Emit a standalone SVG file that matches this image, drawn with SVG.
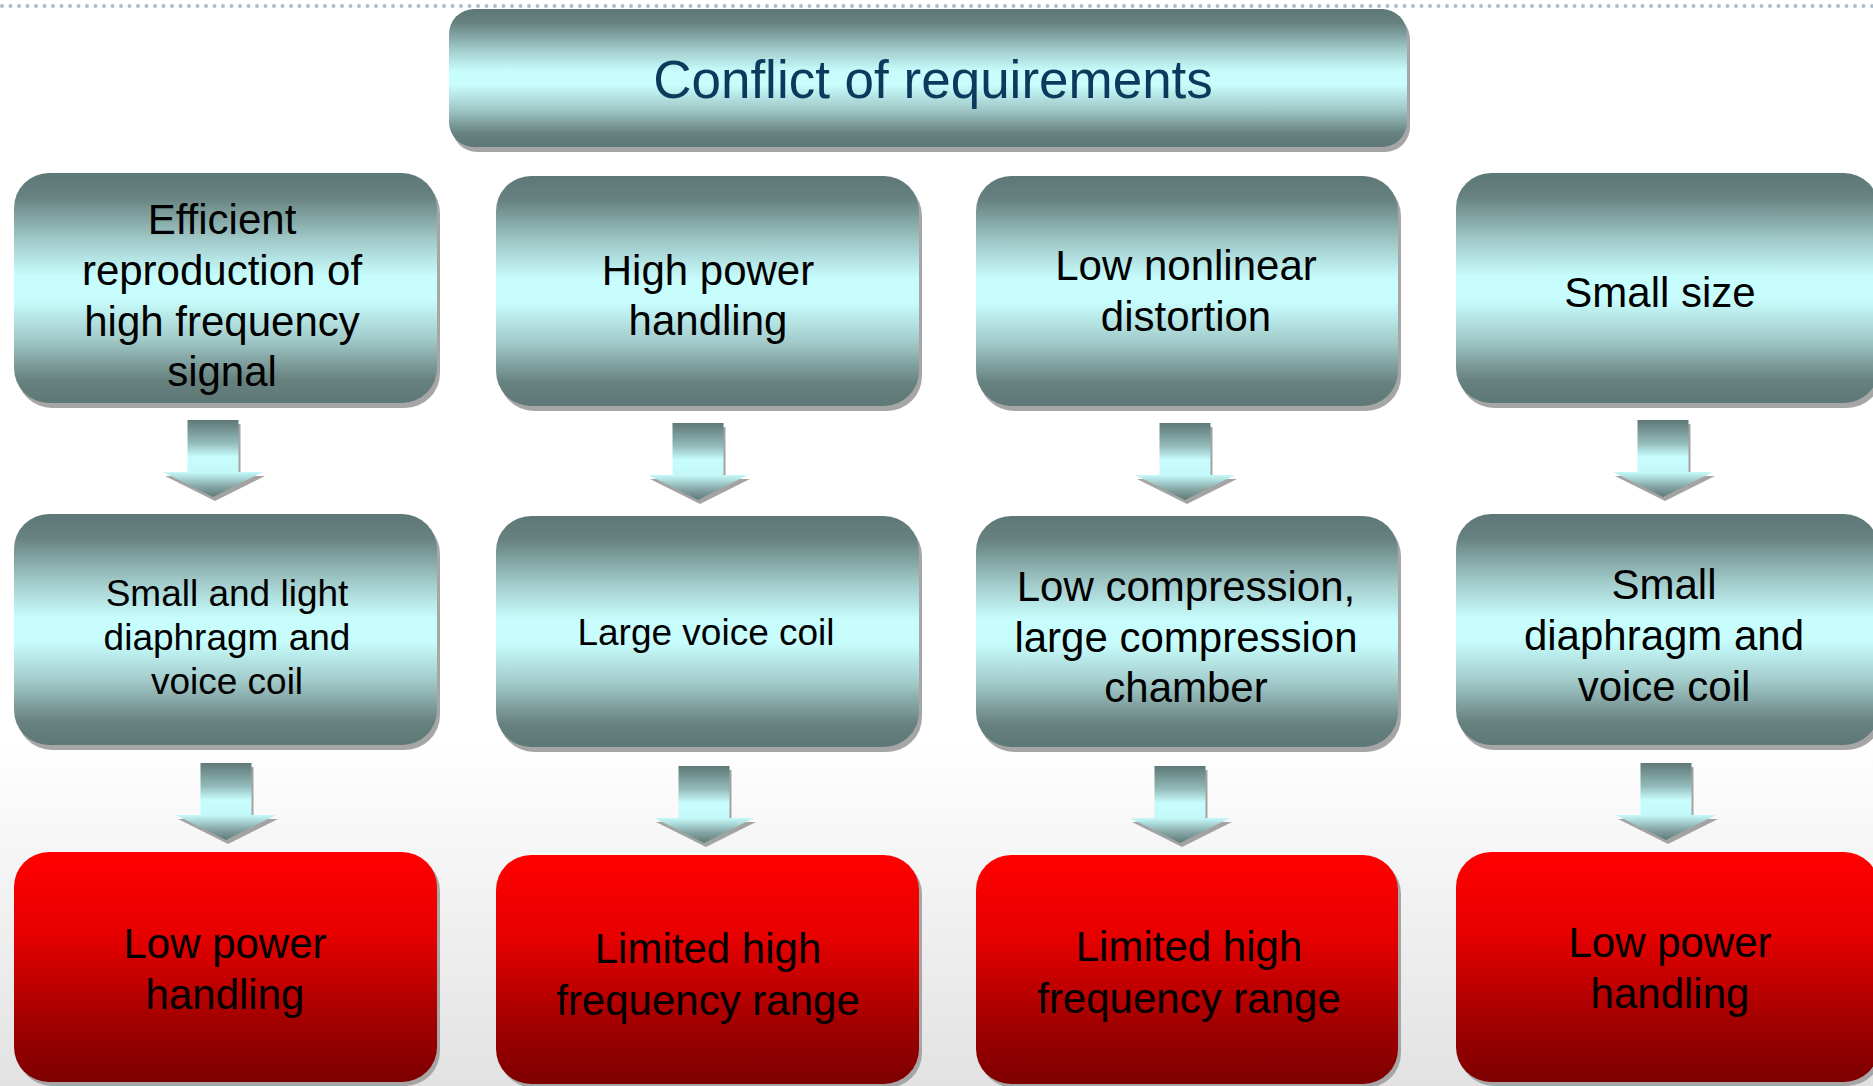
<svg xmlns="http://www.w3.org/2000/svg" xmlns:xlink="http://www.w3.org/1999/xlink" width="1873" height="1086" viewBox="0 0 1873 1086">
  <defs>
    <!-- page background: white fading to light grey toward the bottom -->
    <linearGradient id="bgGrad" gradientUnits="userSpaceOnUse" x1="0" y1="740" x2="0" y2="1086">
      <stop offset="0" stop-color="#ffffff"/>
      <stop offset="1" stop-color="#e2e2e2"/>
    </linearGradient>
    <!-- metallic teal fill for requirement boxes -->
    <linearGradient id="tealGrad" x1="0" y1="0" x2="0" y2="1">
      <stop offset="0" stop-color="#5e7877"/>
      <stop offset="0.1" stop-color="#66817f"/>
      <stop offset="0.3" stop-color="#a3cdcc"/>
      <stop offset="0.45" stop-color="#c8fdfd"/>
      <stop offset="0.55" stop-color="#c8fdfd"/>
      <stop offset="0.72" stop-color="#a2cbca"/>
      <stop offset="0.9" stop-color="#67817f"/>
      <stop offset="1" stop-color="#5e7877"/>
    </linearGradient>
    <!-- metallic fill for the block arrows -->
    <linearGradient id="arrowGrad" x1="0" y1="0" x2="0" y2="1">
      <stop offset="0" stop-color="#5e7877"/>
      <stop offset="0.3" stop-color="#93bbba"/>
      <stop offset="0.48" stop-color="#c8fdfd"/>
      <stop offset="0.68" stop-color="#c4f8f8"/>
      <stop offset="0.86" stop-color="#86a8a7"/>
      <stop offset="1" stop-color="#5e7877"/>
    </linearGradient>
    <!-- red fill for consequence boxes -->
    <linearGradient id="redGrad" x1="0" y1="0" x2="0" y2="1">
      <stop offset="0" stop-color="#ff0000"/>
      <stop offset="0.35" stop-color="#e80000"/>
      <stop offset="0.75" stop-color="#a00000"/>
      <stop offset="1" stop-color="#7c0000"/>
    </linearGradient>
    <!-- block arrow pointing down, origin at top centre of the shaft -->
    <path id="downArrow" d="M -25.5 0 H 25.5 V 52 H 50 L 0 77 L -50 52 H -25.5 Z"/>
  </defs>

  <style>
    .shadow { fill: #a6a6a6; }
    .teal { fill: url(#tealGrad); }
    .red { fill: url(#redGrad); }
    .arrow { fill: url(#arrowGrad); }
    .arrowShadow { fill: #a3a3a3; }
    text { font-family: "Liberation Sans", Arial, sans-serif; fill: #000000; text-anchor: middle; }
    .t42 { font-size: 42px; }
    .t37 { font-size: 37px; }
    .title { font-size: 53px; fill: #0a3a5c; }
  </style>

  <!-- background -->
  <rect x="0" y="0" width="1873" height="1086" fill="url(#bgGrad)"/>

  <!-- dotted rule along the top edge -->
  <line x1="2" y1="6" x2="1873" y2="6" stroke="#a9bfcf" stroke-width="4" stroke-linecap="round" stroke-dasharray="0 8.5"/>

  <!-- title -->
  <g id="title">
    <rect class="shadow" x="452" y="14" width="958" height="138" rx="25"/>
    <rect class="teal" x="449" y="9" width="958" height="138" rx="25"/>
    <text class="title" x="933" y="98">Conflict of requirements</text>
  </g>

  <!-- column 1 -->
  <g id="req1">
    <rect class="shadow" x="17" y="178" width="423" height="230" rx="35"/>
    <rect class="teal" x="14" y="173" width="423" height="230" rx="35"/>
    <text class="t42" x="222" y="234">Efficient</text>
    <text class="t42" x="222" y="285">reproduction of</text>
    <text class="t42" x="222" y="336">high frequency</text>
    <text class="t42" x="222" y="386">signal</text>
  </g>
  <g id="means1">
    <rect class="shadow" x="17" y="519" width="423" height="231" rx="35"/>
    <rect class="teal" x="14" y="514" width="423" height="231" rx="35"/>
    <text class="t37" x="227" y="606">Small and light</text>
    <text class="t37" x="227" y="650">diaphragm and</text>
    <text class="t37" x="227" y="694">voice coil</text>
  </g>
  <g id="result1">
    <rect class="shadow" x="17" y="856" width="423" height="230" rx="35"/>
    <rect class="red" x="14" y="852" width="423" height="230" rx="35"/>
    <text class="t42" x="225" y="958">Low power</text>
    <text class="t42" x="225" y="1009">handling</text>
  </g>

  <!-- column 2 -->
  <g id="req2">
    <rect class="shadow" x="499" y="181" width="423" height="230" rx="35"/>
    <rect class="teal" x="496" y="176" width="423" height="230" rx="35"/>
    <text class="t42" x="708" y="285">High power</text>
    <text class="t42" x="708" y="335">handling</text>
  </g>
  <g id="means2">
    <rect class="shadow" x="499" y="521" width="423" height="231" rx="35"/>
    <rect class="teal" x="496" y="516" width="423" height="231" rx="35"/>
    <text class="t37" x="706" y="645">Large voice coil</text>
  </g>
  <g id="result2">
    <rect class="shadow" x="499" y="859" width="423" height="229" rx="35"/>
    <rect class="red" x="496" y="855" width="423" height="229" rx="35"/>
    <text class="t42" x="708" y="963">Limited high</text>
    <text class="t42" x="708" y="1015">frequency range</text>
  </g>

  <!-- column 3 -->
  <g id="req3">
    <rect class="shadow" x="979" y="181" width="422" height="230" rx="35"/>
    <rect class="teal" x="976" y="176" width="422" height="230" rx="35"/>
    <text class="t42" x="1186" y="280">Low nonlinear</text>
    <text class="t42" x="1186" y="331">distortion</text>
  </g>
  <g id="means3">
    <rect class="shadow" x="979" y="521" width="422" height="231" rx="35"/>
    <rect class="teal" x="976" y="516" width="422" height="231" rx="35"/>
    <text class="t42" x="1186" y="601">Low compression,</text>
    <text class="t42" x="1186" y="652">large compression</text>
    <text class="t42" x="1186" y="702">chamber</text>
  </g>
  <g id="result3">
    <rect class="shadow" x="979" y="859" width="422" height="229" rx="35"/>
    <rect class="red" x="976" y="855" width="422" height="229" rx="35"/>
    <text class="t42" x="1189" y="961">Limited high</text>
    <text class="t42" x="1189" y="1013">frequency range</text>
  </g>

  <!-- column 4 -->
  <g id="req4">
    <rect class="shadow" x="1459" y="178" width="423" height="230" rx="35"/>
    <rect class="teal" x="1456" y="173" width="423" height="230" rx="35"/>
    <text class="t42" x="1660" y="307">Small size</text>
  </g>
  <g id="means4">
    <rect class="shadow" x="1459" y="519" width="423" height="231" rx="35"/>
    <rect class="teal" x="1456" y="514" width="423" height="231" rx="35"/>
    <text class="t42" x="1664" y="599">Small</text>
    <text class="t42" x="1664" y="650">diaphragm and</text>
    <text class="t42" x="1664" y="701">voice coil</text>
  </g>
  <g id="result4">
    <rect class="shadow" x="1459" y="856" width="423" height="230" rx="35"/>
    <rect class="red" x="1456" y="852" width="423" height="230" rx="35"/>
    <text class="t42" x="1670" y="957">Low power</text>
    <text class="t42" x="1670" y="1008">handling</text>
  </g>

  <!-- connectors: down arrows between rows -->
  <g id="connectors">
    <g transform="translate(213,420)"><use href="#downArrow" class="arrowShadow" x="2" y="4"/><use href="#downArrow" class="arrow"/></g>
    <g transform="translate(698,423)"><use href="#downArrow" class="arrowShadow" x="2" y="4"/><use href="#downArrow" class="arrow"/></g>
    <g transform="translate(1185,423)"><use href="#downArrow" class="arrowShadow" x="2" y="4"/><use href="#downArrow" class="arrow"/></g>
    <g transform="translate(1663,420)"><use href="#downArrow" class="arrowShadow" x="2" y="4"/><use href="#downArrow" class="arrow"/></g>
    <g transform="translate(226,763)"><use href="#downArrow" class="arrowShadow" x="2" y="4"/><use href="#downArrow" class="arrow"/></g>
    <g transform="translate(704,766)"><use href="#downArrow" class="arrowShadow" x="2" y="4"/><use href="#downArrow" class="arrow"/></g>
    <g transform="translate(1180,766)"><use href="#downArrow" class="arrowShadow" x="2" y="4"/><use href="#downArrow" class="arrow"/></g>
    <g transform="translate(1666,763)"><use href="#downArrow" class="arrowShadow" x="2" y="4"/><use href="#downArrow" class="arrow"/></g>
  </g>
</svg>
